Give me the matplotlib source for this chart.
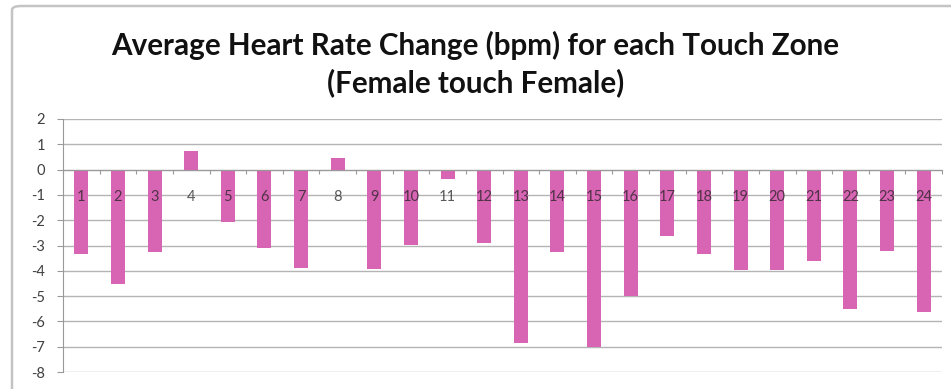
import matplotlib
matplotlib.use("Agg")
import matplotlib.pyplot as plt
from matplotlib.patches import FancyBboxPatch

# 数据
zones = [str(i) for i in range(1, 25)]
hr_change = [-3.34, -4.54, -3.27, 0.73, -2.09, -3.11, -3.9, 0.44,
             -3.93, -2.97, -0.36, -2.9, -6.86, -3.26, -7.02, -5.01,
             -2.64, -3.32, -3.98, -3.96, -3.63, -5.5, -3.23, -5.63]
y_ticks = [2, 1, 0, -1, -2, -3, -4, -5, -6, -7, -8]
title = "Average Heart Rate Change (bpm) for each Touch Zone\n(Female touch Female)"

plt.rcParams['font.family'] = ['Lato', 'DejaVu Sans']

W, H = 951, 389
fig = plt.figure(figsize=(W / 100, H / 100), dpi=100)

# 图表外框
frame = FancyBboxPatch((12 / W, -0.1), 1.1, 1 - 6 / H + 0.1,
                       boxstyle="round,pad=0,rounding_size=0.01",
                       transform=fig.transFigure, fill=False,
                       edgecolor='#c4c4c4', linewidth=1.8, clip_on=False)
fig.patches.append(frame)

ax = fig.add_axes([63 / W, 1 - 372 / H, (942 - 63) / W, (372 - 119) / H])

x = list(range(len(zones)))
ax.bar(x, hr_change, width=0.38, color='#d864b4', zorder=2)

ax.set_xlim(-0.5, len(zones) - 0.5)
ax.set_ylim(min(y_ticks), max(y_ticks))
ax.set_yticks(y_ticks)
ax.set_yticklabels([str(v) for v in y_ticks], fontsize=10.5, color='#404040')
ax.yaxis.grid(True, color='#b4b4b4', linewidth=1, zorder=0)
ax.tick_params(axis='y', length=4, color='#999999', pad=9)

# x 轴放在 0 处
ax.spines['bottom'].set_position(('data', 0))
ax.spines['bottom'].set_color('#999999')
ax.spines['left'].set_color('#999999')
ax.spines['top'].set_visible(False)
ax.spines['right'].set_visible(False)
ax.set_xticks([i - 0.5 for i in range(len(zones) + 1)])
ax.set_xticklabels([])
ax.tick_params(axis='x', length=3, color='#999999', direction='out')

for i, z in enumerate(zones):
    ax.text(i, -1.1, z, ha='center', va='center', fontsize=10.5,
            color='#222222', alpha=0.75, zorder=3)

fig.text(0.5, 1 - 64 / H, title, ha='center', va='center',
         fontsize=21.3, fontweight='bold', color='#111111', linespacing=1.38)

fig.savefig("out.png", dpi=100)
